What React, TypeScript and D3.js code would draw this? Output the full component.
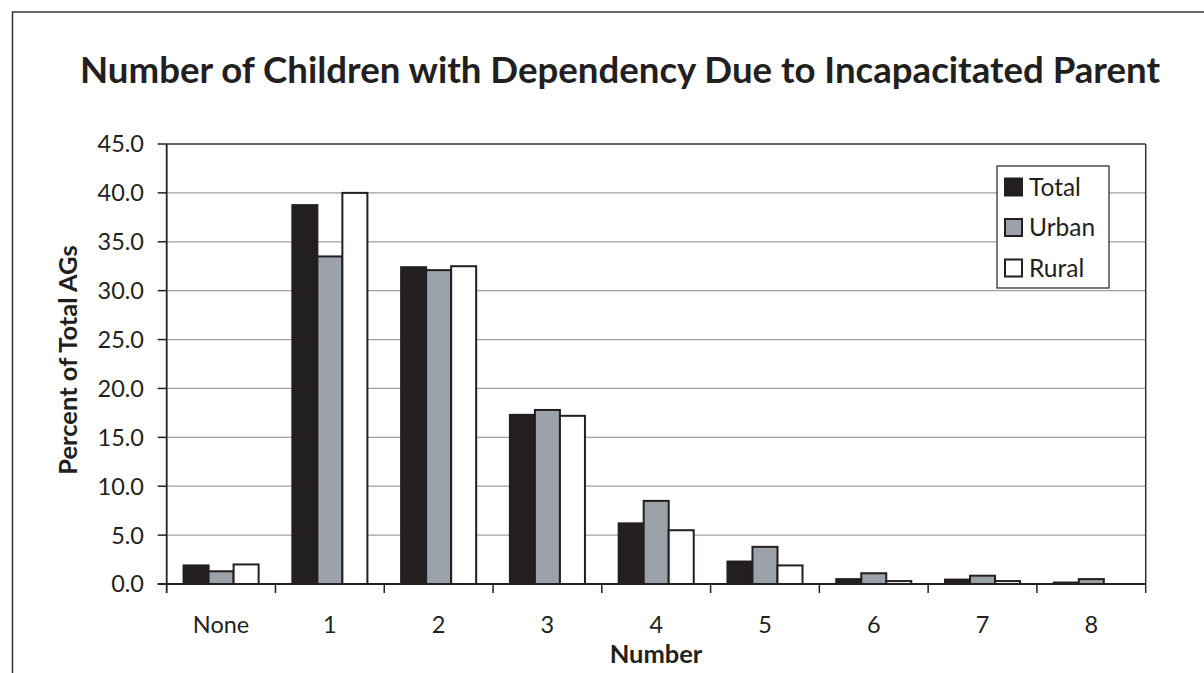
import React from "react";
import * as d3 from "d3";

const categories = ["None", "1", "2", "3", "4", "5", "6", "7", "8"];
const seriesNames = ["Total", "Urban", "Rural"];
const totalValues = [1.9, 38.75, 32.4, 17.3, 6.2, 2.3, 0.5, 0.45, 0.15];
const urbanValues = [1.3, 33.5, 32.1, 17.8, 8.5, 3.8, 1.1, 0.85, 0.5];
const ruralValues = [2.0, 40.0, 32.5, 17.2, 5.5, 1.9, 0.3, 0.3, 0.0];
const yTicks = [0, 5, 10, 15, 20, 25, 30, 35, 40, 45];
const seriesColors = ["#231f20", "#9ba1a8", "#ffffff"];

const FONT = "Lato, 'Open Sans', sans-serif";

export default function App() {
  const left = 166.7;
  const right = 1145.7;
  const top = 144;
  const bottom = 584;
  const x = d3.scaleBand<string>().domain(categories).range([left, right]).paddingInner(0).paddingOuter(0);
  const y = d3.scaleLinear().domain([0, 45]).range([bottom, top]);
  const groupFrac = 0.69;
  const inner = d3
    .scaleBand<string>()
    .domain(seriesNames)
    .range([0, x.bandwidth() * groupFrac]);
  const allSeries = [totalValues, urbanValues, ruralValues];
  const stroke = "#231f20";

  return (
    <svg
      width={1204}
      height={673}
      style={{ position: "absolute", left: 0, top: 0, background: "#fff" }}
      fontFamily={FONT}
    >
      <rect x={0} y={0} width={1204} height={673} fill="#fff" />
      {/* outer frame */}
      <path d={`M12.5,700 L12.5,12 L1210,12`} fill="none" stroke="#333" strokeWidth={1.5} />
      {/* title */}
      <text
        x={620}
        y={83}
        textAnchor="middle"
        fontSize={37}
        fontWeight="bold"
        fill="#231f20"
        textLength={1080}
        lengthAdjust="spacingAndGlyphs"
      >
        Number of Children with Dependency Due to Incapacitated Parent
      </text>
      {/* gridlines */}
      {yTicks
        .filter((t) => t > 0 && t < 45)
        .map((t) => (
          <line key={"g" + t} x1={left} x2={right} y1={y(t)} y2={y(t)} stroke="#a0a0a0" strokeWidth={1.3} />
        ))}
      {/* plot border top & right */}
      <line x1={left} x2={right} y1={y(45)} y2={y(45)} stroke="#333" strokeWidth={1.5} />
      <line x1={right} x2={right} y1={y(45)} y2={bottom + 9} stroke="#333" strokeWidth={1.5} />
      {/* bars */}
      {allSeries.map((vals, si) =>
        vals.map((v, ci) => {
          const cat = categories[ci];
          const gx = (x(cat) as number) + (x.bandwidth() * (1 - groupFrac)) / 2;
          const bx = gx + (inner(seriesNames[si]) as number);
          const h = y(0) - y(v);
          return (
            <rect
              key={`b${si}-${ci}`}
              x={bx}
              y={y(v)}
              width={inner.bandwidth()}
              height={h}
              fill={seriesColors[si]}
              stroke={stroke}
              strokeWidth={2}
            />
          );
        })
      )}
      {/* y axis */}
      <line x1={left} x2={left} y1={top} y2={bottom + 9} stroke="#231f20" strokeWidth={1.8} />
      {yTicks.map((t) => (
        <g key={"yt" + t}>
          <line x1={left - 9} x2={left} y1={y(t)} y2={y(t)} stroke="#231f20" strokeWidth={1.5} />
          <text x={144} y={y(t)} dy="0.36em" textAnchor="end" fontSize={23.5} fill="#231f20">
            {t.toFixed(1)}
          </text>
        </g>
      ))}
      {/* x axis */}
      <line x1={left - 9} x2={right} y1={bottom} y2={bottom} stroke="#231f20" strokeWidth={1.8} />
      {categories.map((c, i) => (
        <g key={"xt" + c}>
          {i > 0 && (
            <line
              x1={x(c) as number}
              x2={x(c) as number}
              y1={bottom}
              y2={bottom + 9}
              stroke="#231f20"
              strokeWidth={1.5}
            />
          )}
          <text
            x={(x(c) as number) + x.bandwidth() / 2}
            y={633}
            textAnchor="middle"
            fontSize={23.5}
            fill="#231f20"
          >
            {c}
          </text>
        </g>
      ))}
      {/* axis titles */}
      <text x={656} y={663} textAnchor="middle" fontSize={25.5} fontWeight="bold" fill="#231f20">
        Number
      </text>
      <text
        transform={`translate(77,360) rotate(-90)`}
        textAnchor="middle"
        fontSize={25.5}
        fontWeight="bold"
        fill="#231f20"
      >
        Percent of Total AGs
      </text>
      {/* legend */}
      <rect x={997} y={166} width={112} height={122} fill="#fff" stroke="#333" strokeWidth={1.3} />
      {seriesNames.map((s, i) => {
        const cy = 187 + i * 40.5;
        return (
          <g key={"lg" + s}>
            <rect x={1005} y={cy - 8.5} width={17} height={17} fill={seriesColors[i]} stroke={stroke} strokeWidth={2} />
            <text x={1029} y={cy} dy="0.36em" fontSize={24.5} fill="#231f20">
              {s}
            </text>
          </g>
        );
      })}
    </svg>
  );
}
